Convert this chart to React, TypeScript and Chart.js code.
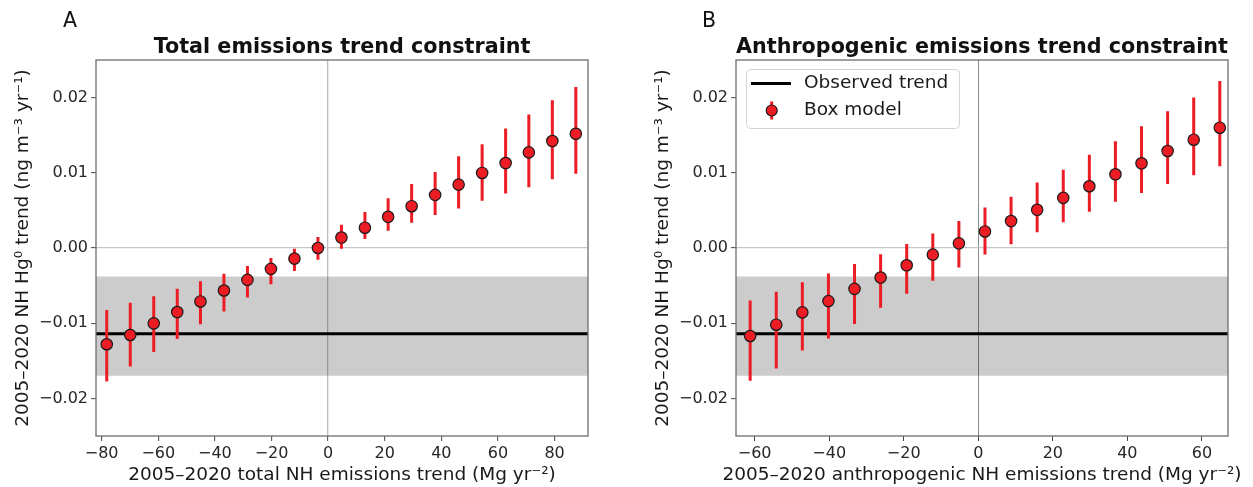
import React, { useEffect, useRef } from 'react';
import { Chart, registerables } from 'chart.js';

Chart.register(...registerables);

// ---------- Data ----------
const totalX = [-78.2, -69.9, -61.6, -53.3, -45.1, -36.8, -28.5, -20.2, -11.9, -3.6, 4.7, 13.0, 21.2, 29.5, 37.8, 46.1, 54.4, 62.7, 70.9, 79.2, 87.5];
const totalMean = [-0.0128, -0.01157, -0.01002, -0.00852, -0.00711, -0.00565, -0.00424, -0.00278, -0.00141, 0.0, 0.00139, 0.0027, 0.00415, 0.00556, 0.00706, 0.00843, 0.00998, 0.0113, 0.01272, 0.01422, 0.01519];
const totalHigh = [-0.00826, -0.00728, -0.0064, -0.00543, -0.00442, -0.00344, -0.00238, -0.00132, -0.0001, 0.00146, 0.0031, 0.0048, 0.0066, 0.0085, 0.0101, 0.0122, 0.0138, 0.0159, 0.01775, 0.01965, 0.0214];
const totalLow = [-0.01775, -0.01576, -0.01384, -0.0121, -0.01015, -0.00843, -0.00658, -0.00481, -0.00305, -0.00155, -0.0001, 0.0012, 0.0023, 0.00336, 0.0044, 0.00525, 0.00627, 0.00724, 0.00808, 0.00914, 0.00989];

const anthroX = [-61.2, -54.2, -47.2, -40.2, -33.2, -26.2, -19.2, -12.2, -5.2, 1.8, 8.8, 15.8, 22.8, 29.8, 36.8, 43.8, 50.8, 57.8, 64.8];
const anthroMean = [-0.0117, -0.0102, -0.00856, -0.00706, -0.00543, -0.00393, -0.0023, -0.00088, 0.00062, 0.0022, 0.00358, 0.00508, 0.00667, 0.00821, 0.0098, 0.01126, 0.0129, 0.0144, 0.016];
const anthroHigh = [-0.00697, -0.00583, -0.00455, -0.0034, -0.00212, -0.00084, 0.00053, 0.00194, 0.0036, 0.0054, 0.0068, 0.0087, 0.0104, 0.0124, 0.0142, 0.0162, 0.0182, 0.02, 0.0222];
const anthroLow = [-0.01766, -0.01603, -0.01364, -0.01205, -0.0101, -0.00795, -0.0061, -0.00437, -0.0026, -0.00088, 0.0005, 0.0021, 0.00344, 0.00481, 0.00614, 0.00733, 0.00852, 0.00967, 0.01086];

const observedTrend = -0.0114;
const observedLow = -0.017;
const observedHigh = -0.0038;

const yTicks = [-0.02, -0.01, 0, 0.01, 0.02];
const yTickLabels = ['\u22120.02', '\u22120.01', '0.00', '0.01', '0.02'];
const totalXTicks = [-80, -60, -40, -20, 0, 20, 40, 60, 80];
const totalXTickLabels = ['\u221280', '\u221260', '\u221240', '\u221220', '0', '20', '40', '60', '80'];
const anthroXTicks = [-60, -40, -20, 0, 20, 40, 60];
const anthroXTickLabels = ['\u221260', '\u221240', '\u221220', '0', '20', '40', '60'];

const yTitle = '2005\u20132020 NH Hg\u2070 trend (ng m\u207B\u00B3 yr\u207B\u00B9)';
const legendLabels = ['Observed trend', 'Box model'];

// ---------- Style ----------
const RED = '#ec1c24';
const FONT = '"DejaVu Sans"';
const H = 487;
const LABEL_SIZE = 18.5;
const TICK_SIZE = 16;

type Panel = {
  letter: string; letterX: number; title: string; xTitle: string;
  xs: number[]; mean: number[]; low: number[]; high: number[];
  xMin: number; xMax: number; xTicks: number[]; xTickLabels: string[];
  width: number; plotLeft: number; plotRight: number; plotTop: number; plotBottom: number;
  zeroColor: string; zeroWidth: number; legend: boolean;
};

const panels: Panel[] = [
  {
    letter: 'A', letterX: 70, title: 'Total emissions trend constraint',
    xTitle: '2005\u20132020 total NH emissions trend (Mg yr\u207B\u00B2)',
    xs: totalX, mean: totalMean, low: totalLow, high: totalHigh,
    xMin: -82, xMax: 91.8, xTicks: totalXTicks, xTickLabels: totalXTickLabels,
    width: 626, plotLeft: 96, plotRight: 588, plotTop: 60, plotBottom: 436,
    zeroColor: '#bdbdbd', zeroWidth: 1.3, legend: false,
  },
  {
    letter: 'B', letterX: 83, title: 'Anthropogenic emissions trend constraint',
    xTitle: '2005\u20132020 anthropogenic NH emissions trend (Mg yr\u207B\u00B2)',
    xs: anthroX, mean: anthroMean, low: anthroLow, high: anthroHigh,
    xMin: -65, xMax: 67, xTicks: anthroXTicks, xTickLabels: anthroXTickLabels,
    width: 627, plotLeft: 110, plotRight: 602, plotTop: 60, plotBottom: 436,
    zeroColor: '#8a8a8a', zeroWidth: 1, legend: true,
  },
];

function decorPlugin(p: Panel) {
  return {
    id: 'decor' + p.letter,
    afterDraw(chart: any) {
      const ctx = chart.ctx as CanvasRenderingContext2D;
      const a = chart.chartArea;
      ctx.save();
      // spines
      ctx.strokeStyle = '#6e6e6e';
      ctx.lineWidth = 1.3;
      ctx.strokeRect(a.left, a.top, a.right - a.left, a.bottom - a.top);
      ctx.fillStyle = '#111';
      ctx.textAlign = 'center';
      // panel letter
      ctx.font = `20.5px ${FONT}`;
      ctx.textBaseline = 'middle';
      ctx.fillText(p.letter, p.letterX, 22);
      // title
      ctx.font = `bold 20.7px ${FONT}`;
      ctx.textBaseline = 'alphabetic';
      ctx.fillText(p.title, (a.left + a.right) / 2, 53);
      // x title
      ctx.fillStyle = '#1a1a1a';
      ctx.font = `${LABEL_SIZE}px ${FONT}`;
      ctx.textBaseline = 'middle';
      ctx.fillText(p.xTitle, (a.left + a.right) / 2, 475);
      // y title
      ctx.save();
      ctx.translate(a.left - 73, (a.top + a.bottom) / 2);
      ctx.rotate(-Math.PI / 2);
      ctx.fillText(yTitle, 0, 0);
      ctx.restore();

      if (p.legend) {
        const lx = a.left + 10, ly = a.top + 9, lw = 213, lh = 59;
        ctx.beginPath();
        (ctx as any).roundRect(lx + 0.5, ly + 0.5, lw, lh, 4);
        ctx.fillStyle = 'rgba(255,255,255,0.85)';
        ctx.fill();
        ctx.strokeStyle = '#d4d4d4';
        ctx.lineWidth = 1;
        ctx.stroke();
        const r1 = ly + 14.5, r2 = ly + 41.5;
        ctx.beginPath();
        ctx.moveTo(lx + 5, r1);
        ctx.lineTo(lx + 45, r1);
        ctx.strokeStyle = '#000';
        ctx.lineWidth = 3;
        ctx.stroke();
        const mx = lx + 25.7;
        ctx.beginPath();
        ctx.moveTo(mx, r2 - 9);
        ctx.lineTo(mx, r2 + 9);
        ctx.strokeStyle = RED;
        ctx.lineWidth = 3;
        ctx.stroke();
        ctx.beginPath();
        ctx.arc(mx, r2, 5.5, 0, Math.PI * 2);
        ctx.fillStyle = RED;
        ctx.fill();
        ctx.strokeStyle = '#1a1a1a';
        ctx.lineWidth = 1.2;
        ctx.stroke();
        ctx.fillStyle = '#1a1a1a';
        ctx.font = `${LABEL_SIZE}px ${FONT}`;
        ctx.textAlign = 'left';
        ctx.textBaseline = 'middle';
        ctx.fillText(legendLabels[0], lx + 58, r1);
        ctx.fillText(legendLabels[1], lx + 58, r2);
      }
      ctx.restore();
    },
  };
}

function buildChart(canvas: HTMLCanvasElement, p: Panel) {
  const points = p.xs.map((x, i) => ({ x, y: p.mean[i] }));
  const bars: any[] = [];
  p.xs.forEach((x, i) => {
    bars.push({ x, y: p.low[i] });
    bars.push({ x, y: p.high[i] });
    bars.push({ x, y: null });
  });
  return new Chart(canvas, {
    type: 'line',
    data: {
      datasets: [
        {
          data: points, showLine: false, pointRadius: 5.7, pointHoverRadius: 5.7,
          pointBackgroundColor: RED, pointBorderColor: '#1a1a1a', pointBorderWidth: 1.2, order: 0,
        },
        {
          data: bars, borderColor: RED, borderWidth: 3, pointRadius: 0, spanGaps: false,
          borderCapStyle: 'butt', order: 1,
        },
        {
          data: [{ x: p.xMin, y: observedTrend }, { x: p.xMax, y: observedTrend }],
          borderColor: '#000', borderWidth: 3, pointRadius: 0, order: 2,
        },
        {
          data: [{ x: p.xMin, y: observedHigh }, { x: p.xMax, y: observedHigh }],
          borderColor: 'rgba(0,0,0,0)', borderWidth: 0, pointRadius: 0,
          fill: { value: observedLow }, backgroundColor: 'rgba(0,0,0,0.2)', order: 3,
        },
      ] as any,
    },
    options: {
      responsive: false,
      animation: false,
      devicePixelRatio: 1,
      events: [],
      layout: { padding: { left: 0, top: p.plotTop, right: p.width - p.plotRight, bottom: 0 } },
      plugins: { legend: { display: false }, tooltip: { enabled: false }, title: { display: false } },
      scales: {
        x: {
          type: 'linear', min: p.xMin, max: p.xMax,
          afterFit: (s: any) => { s.height = H - p.plotBottom; },
          afterBuildTicks: (s: any) => { s.ticks = p.xTicks.map((v) => ({ value: v })); },
          ticks: {
            autoSkip: false, maxRotation: 0, padding: 3, color: '#262626',
            font: { family: 'DejaVu Sans', size: TICK_SIZE },
            callback: (v: any) => p.xTickLabels[p.xTicks.indexOf(Number(v))] ?? '',
          },
          grid: {
            color: (c: any) => (c.tick && c.tick.value === 0 ? p.zeroColor : 'rgba(0,0,0,0)'),
            lineWidth: p.zeroWidth, tickColor: '#444', tickLength: 5, tickWidth: 1,
          },
          border: { display: false },
        },
        y: {
          type: 'linear', min: -0.025, max: 0.025,
          afterFit: (s: any) => { s.width = p.plotLeft; },
          afterBuildTicks: (s: any) => { s.ticks = yTicks.map((v) => ({ value: v })); },
          ticks: {
            autoSkip: false, padding: 3, color: '#262626',
            font: { family: 'DejaVu Sans', size: TICK_SIZE },
            callback: (v: any) => yTickLabels[yTicks.indexOf(Number(v))] ?? '',
          },
          grid: {
            color: (c: any) => (c.tick && c.tick.value === 0 ? '#c6c6c6' : 'rgba(0,0,0,0)'),
            lineWidth: 1.3, tickColor: '#444', tickLength: 5, tickWidth: 1,
          },
          border: { display: false },
        },
      },
    } as any,
    plugins: [decorPlugin(p)],
  });
}

export default function App() {
  const refA = useRef<HTMLCanvasElement>(null);
  const refB = useRef<HTMLCanvasElement>(null);
  useEffect(() => {
    const charts = [buildChart(refA.current!, panels[0]), buildChart(refB.current!, panels[1])];
    return () => charts.forEach((c) => c.destroy());
  }, []);
  return (
    <div style={{ position: 'absolute', left: 0, top: 0, width: 1253, height: H, background: '#fff' }}>
      <canvas ref={refA} width={panels[0].width} height={H}
        style={{ position: 'absolute', left: 0, top: 0, width: panels[0].width, height: H }} />
      <canvas ref={refB} width={panels[1].width} height={H}
        style={{ position: 'absolute', left: panels[0].width, top: 0, width: panels[1].width, height: H }} />
    </div>
  );
}
